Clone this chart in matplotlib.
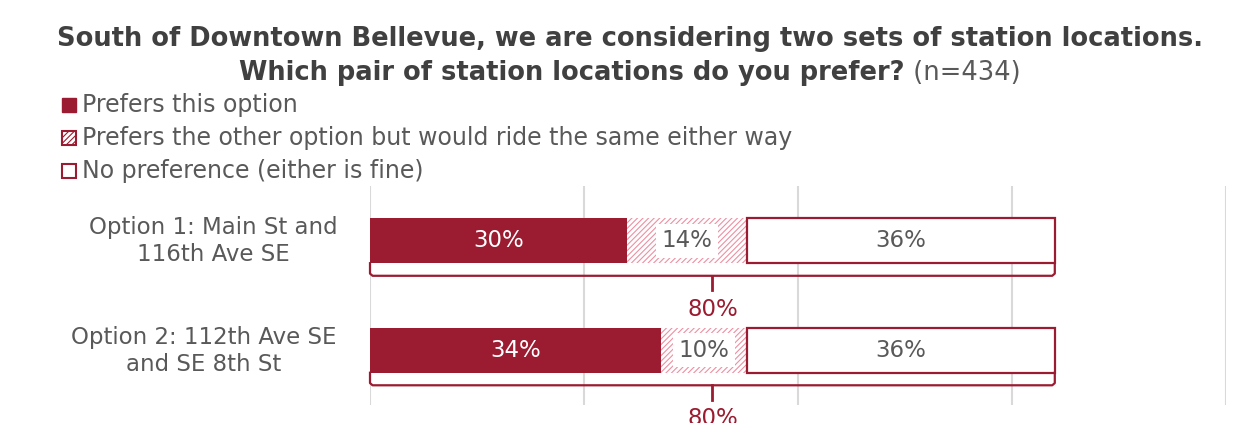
import matplotlib
matplotlib.use("Agg")
import matplotlib.pyplot as plt
from matplotlib.patches import Rectangle

plt.rcParams['font.family'] = ['DejaVu Sans']
plt.rcParams['hatch.linewidth'] = 0.8

options = ["Option 1: Main St and\n116th Ave SE", "Option 2: 112th Ave SE\nand SE 8th St"]
prefers_this = [30, 34]
prefers_other = [14, 10]
no_pref = [36, 36]
ride_total = [80, 80]
legend_labels = ["Prefers this option",
                 "Prefers the other option but would ride the same either way",
                 "No preference (either is fine)"]

RED = '#9B1B30'
PINK = '#EE8FA2'
GRAY = '#595959'
TITLE = '#404040'
W, H = 1250, 423
FS = 16.5

fig = plt.figure(figsize=(W / 100, H / 100), dpi=100)
ax = fig.add_axes([370 / W, 1 - 405 / H, 856 / W, 219 / H])

ax.set_xlim(0, 100)
ax.set_ylim(1.5, -0.5)
for s in ax.spines.values():
    s.set_visible(False)
ax.set_xticks([0, 25, 50, 75, 100])
ax.tick_params(length=0, labelbottom=False, labelleft=False)
ax.grid(axis='x', color='#D9D9D9', linewidth=1.5)
ax.set_axisbelow(True)

bar_h = 0.41
for i in range(len(options)):
    a, b, c = prefers_this[i], prefers_other[i], no_pref[i]
    ax.barh(i, a, height=bar_h, color=RED, linewidth=0)
    ax.barh(i, b, left=a, height=bar_h, color='white', edgecolor=PINK,
            hatch='//////', linewidth=0)
    ax.barh(i, c, left=a + b, height=bar_h, color='white', edgecolor=RED,
            linewidth=1.6)
    ax.text(a / 2, i, f"{a}%", ha='center', va='center', color='white', fontsize=FS)
    ax.text(a + b / 2, i, f"{b}%", ha='center', va='center', color=GRAY, fontsize=FS,
            bbox=dict(facecolor='white', edgecolor='none', pad=4))
    ax.text(a + b + c / 2, i, f"{c}%", ha='center', va='center', color=GRAY, fontsize=FS)

    # bracket under the bar summarising riders
    tot = ride_total[i]
    y0 = i + bar_h / 2
    y1 = i + 0.32
    ax.plot([0, 0, 0.3, tot - 0.3, tot, tot], [y0, y1 - 0.02, y1, y1, y1 - 0.02, y0],
            color=RED, linewidth=1.6, clip_on=False, solid_joinstyle='round')
    ax.plot([tot / 2, tot / 2], [y1, i + 0.45], color=RED, linewidth=2, clip_on=False)
    ax.text(tot / 2, i + 0.625, f"{tot}%", ha='center', va='center', color=RED,
            fontsize=FS, clip_on=False)

    fig.text(213 / W if i == 0 else 204 / W, 1 - (241 + 110 * i) / H, options[i],
             ha='center', va='center', color=GRAY, fontsize=FS, linespacing=1.2)

# title
TFS = 18.5
fig.text(630 / W, 1 - 39 / H,
         "South of Downtown Bellevue, we are considering two sets of station locations.",
         ha='center', va='center', color=TITLE, fontsize=TFS, fontweight='bold')
t1 = fig.text(0, 1 - 73 / H, "Which pair of station locations do you prefer?",
              ha='left', va='center', color=TITLE, fontsize=TFS, fontweight='bold')
t2 = fig.text(0, 1 - 73 / H, " (n=434)", ha='left', va='center', color=GRAY,
              fontsize=TFS)
r = fig.canvas.get_renderer()
w1 = t1.get_window_extent(r).width
w2 = t2.get_window_extent(r).width
start = 630 - (w1 + w2) / 2
t1.set_x(start / W)
t2.set_x((start + w1) / W)

# legend
sq = 14
for k, lab in enumerate(legend_labels):
    yc = 105 + 33 * k
    xy = (62 / W, 1 - (yc + sq / 2) / H)
    if k == 0:
        rect = Rectangle(xy, sq / W, sq / H, transform=fig.transFigure,
                         facecolor=RED, edgecolor=RED)
    elif k == 1:
        rect = Rectangle(xy, sq / W, sq / H, transform=fig.transFigure,
                         facecolor='white', edgecolor=RED, hatch='//////', linewidth=1.5)
    else:
        rect = Rectangle(xy, sq / W, sq / H, transform=fig.transFigure,
                         facecolor='white', edgecolor=RED, linewidth=1.5)
    fig.add_artist(rect)
    fig.text(82 / W, 1 - yc / H, lab, ha='left', va='center', color=GRAY, fontsize=17)

fig.savefig("out.png", dpi=100)
